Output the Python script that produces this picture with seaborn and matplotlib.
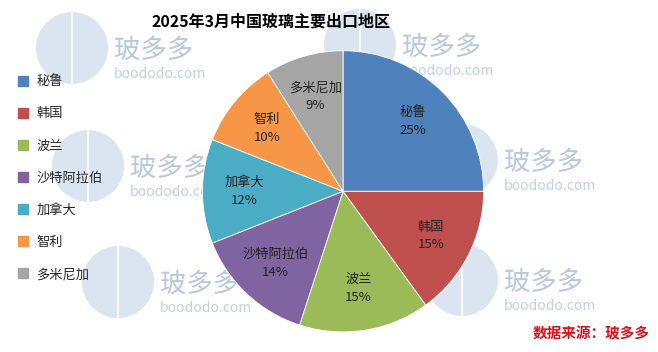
import matplotlib
matplotlib.use('Agg')
import matplotlib.pyplot as plt
import seaborn as sns
from matplotlib.patches import Circle

# data
regions = ['秘鲁', '韩国', '波兰', '沙特阿拉伯', '加拿大', '智利', '多米尼加']
shares = [25, 15, 15, 14, 12, 10, 9]
colors = ['#4F81BD', '#C0504D', '#9BBB59', '#8064A2', '#4BACC6', '#F79646', '#A5A5A5']
title = '2025年3月中国玻璃主要出口地区'
source = '数据来源：玻多多'

sns.set_theme(style='white')
plt.rcParams['font.family'] = ['Noto Sans CJK SC', 'DejaVu Sans']
palette = sns.color_palette(colors)

fig = plt.figure(figsize=(6.58, 3.52), dpi=100)
fig.patch.set_facecolor('white')

# watermark layer
wm = fig.add_axes([0, 0, 1, 1])
wm.set_xlim(0, 658)
wm.set_ylim(352, 0)
wm.axis('off')
marks = [(72, 48), (360, 45), (88, 166), (462, 160), (118, 282), (462, 280)]
for cx, cy in marks:
    wm.add_patch(Circle((cx, cy), 36, color='#8AAAD6', alpha=0.3, lw=0))
    wm.plot([cx, cx], [cy - 36, cy + 36], color='white', lw=1.5, alpha=0.8)
    wm.text(cx + 42, cy + 2, '玻多多', fontsize=19, color='#7090C4', alpha=0.5,
            ha='left', va='center')
    wm.text(cx + 42, cy + 26, 'boododo.com', fontsize=10, color='#90A8CF', alpha=0.55,
            ha='left', va='center')

ax = fig.add_axes([0.3055, 0.053, 0.4316, 0.807])
names = iter(regions)
wedges, texts, autotexts = ax.pie(
    shares, colors=palette, startangle=90, counterclock=False,
    autopct=lambda p: f'{next(names)}\n{p:.0f}%', pctdistance=0.7,
    wedgeprops=dict(edgecolor='white', linewidth=0.6),
    textprops=dict(fontsize=9.5, color='#222222', linespacing=1.5))
ax.set_xlim(-1.01, 1.01)
ax.set_ylim(-1.01, 1.01)
ax.set_aspect('equal')

fig.text(0.412, 0.94, title, ha='center', va='center', fontsize=11.5,
         fontweight='bold', color='black')

# legend
handles = [plt.Line2D([], [], marker='s', ls='', markersize=7, color=c) for c in palette]
fig.legend(handles, regions, loc='upper left', bbox_to_anchor=(0.005, 0.82),
           frameon=False, fontsize=9.5, labelspacing=1.45, handletextpad=0.4,
           handlelength=1.2)

fig.text(0.988, 0.052, source, ha='right', va='center', fontsize=10.5,
         color='#E0101A', fontweight='bold', style='italic')

plt.savefig('out.png', dpi=100, facecolor='white')
